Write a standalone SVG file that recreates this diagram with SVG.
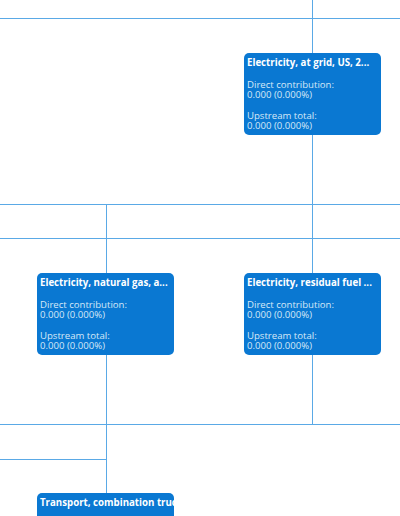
<svg xmlns="http://www.w3.org/2000/svg" width="400" height="516" viewBox="0 0 400 516">
<style>
.box{fill:#0a78d2}
.ln{stroke:#5aa9e6;stroke-width:1;fill:none}
.t{font-family:"Open Sans","Liberation Sans",sans-serif;font-size:9.7px;font-weight:bold;fill:#ffffff}
.b{font-family:"Open Sans","Liberation Sans",sans-serif;font-size:9.6px;fill:#d6e8f7}
</style>
<defs>
<clipPath id="c4"><rect x="37" y="493" width="137" height="30" rx="5"/></clipPath>
</defs>
<rect width="400" height="516" fill="#ffffff"/>
<g id="connectors">
<path class="ln" d="M0 18.5H400M312.5 0V53M312.5 135V273M0 204.5H400M0 238.5H400M106.5 204.5V273M106.5 355V516M312.5 355V424.5M0 424.5H400M0 459.5H106.5"/>
</g>
<g id="node1">
<rect class="box" x="244" y="53" width="137" height="82" rx="5"/>
<text class="t" x="247" y="66">Electricity, at grid, US, 2...</text>
<text class="b" x="247" y="88">Direct contribution:</text>
<text class="b" x="247" y="98">0.000 (0.000%)</text>
<text class="b" x="247" y="119">Upstream total:</text>
<text class="b" x="247" y="129">0.000 (0.000%)</text>
</g>
<g id="node2">
<rect class="box" x="37" y="273" width="137" height="82" rx="5"/>
<text class="t" x="40" y="286">Electricity, natural gas, a...</text>
<text class="b" x="40" y="308">Direct contribution:</text>
<text class="b" x="40" y="318">0.000 (0.000%)</text>
<text class="b" x="40" y="339">Upstream total:</text>
<text class="b" x="40" y="349">0.000 (0.000%)</text>
</g>
<g id="node3">
<rect class="box" x="244" y="273" width="137" height="82" rx="5"/>
<text class="t" x="247" y="286">Electricity, residual fuel ...</text>
<text class="b" x="247" y="308">Direct contribution:</text>
<text class="b" x="247" y="318">0.000 (0.000%)</text>
<text class="b" x="247" y="339">Upstream total:</text>
<text class="b" x="247" y="349">0.000 (0.000%)</text>
</g>
<g id="node4">
<rect class="box" x="37" y="493" width="137" height="30" rx="5"/>
<text class="t" x="40" y="506" clip-path="url(#c4)">Transport, combination truck</text>
</g>
</svg>
